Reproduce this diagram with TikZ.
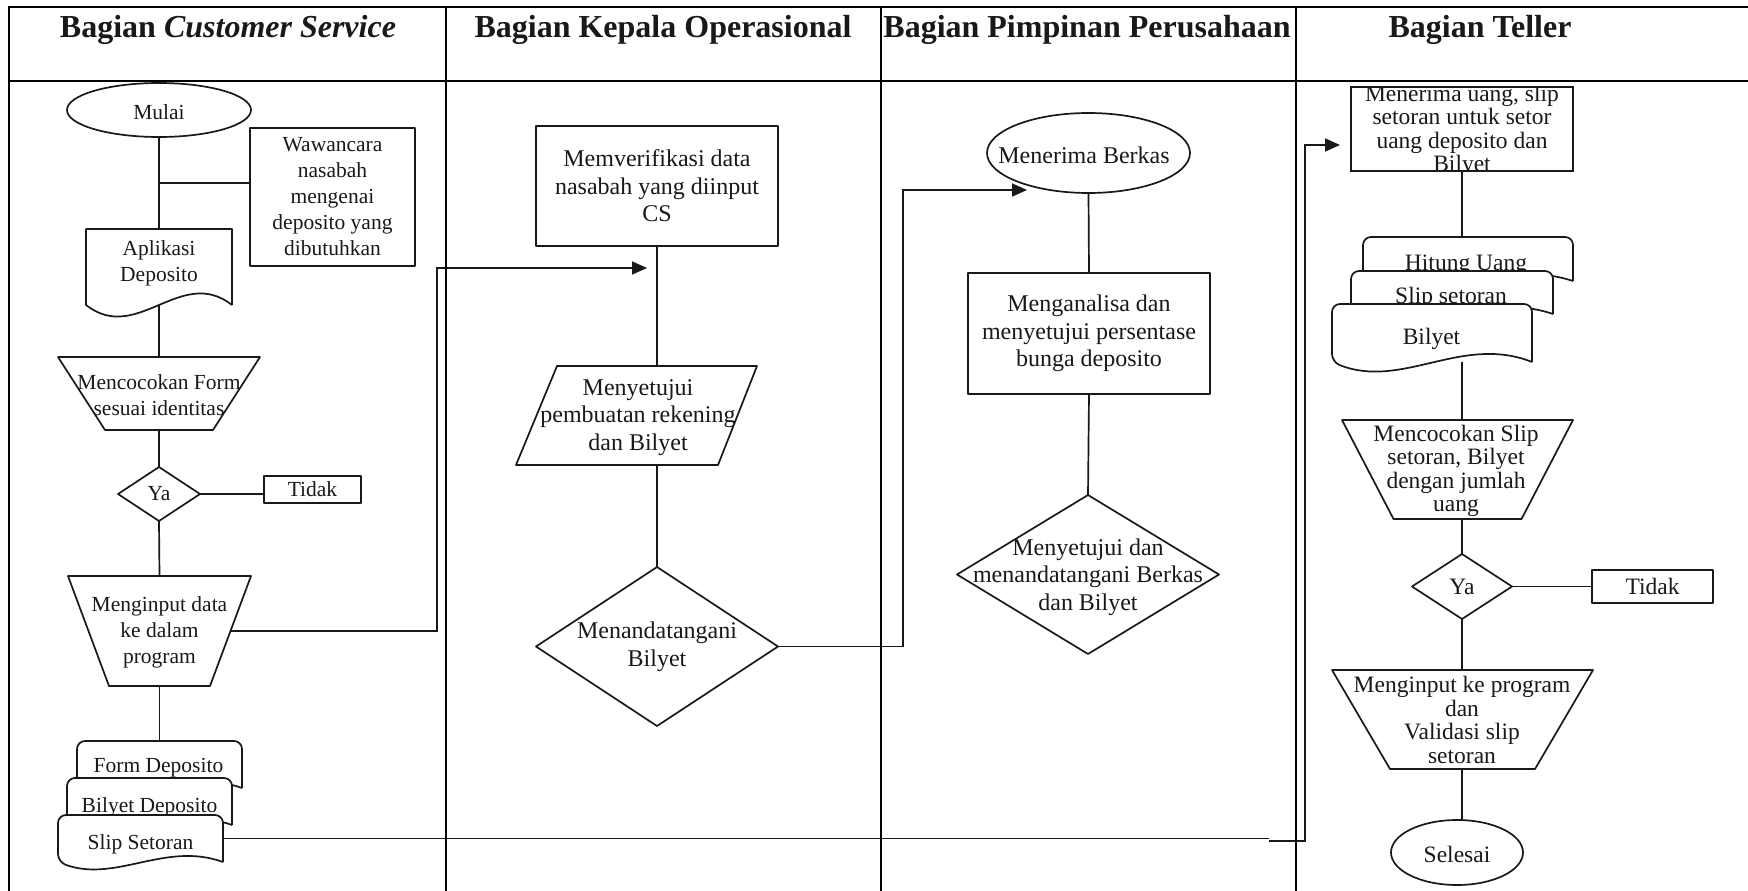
\documentclass[tikz,border=0pt]{standalone}
\usepackage{fontspec}
\setmainfont{Liberation Serif}
\usetikzlibrary{shapes.geometric,arrows.meta,calc}
\pgfdeclarelayer{background}
\pgfsetlayers{background,main}

% document symbol: straight sides, wavy bottom (name, wave depth, top corner radius)
\newcommand{\fcdoc}[3]{%
  \draw[shp,rounded corners=#3] (#1.south east) -- (#1.north east) -- (#1.north west) -- (#1.south west)
    .. controls ($(#1.south west)!0.35!(#1.south east)+(0,#2)$) and ($(#1.south west)!0.65!(#1.south east)+(0,-#2)$) .. (#1.south east);}
% manual operation: wide top, narrow bottom (name, inset of the bottom corners)
\newcommand{\fctrap}[2]{%
  \draw[shp] (#1.north west) -- (#1.north east) -- ($(#1.south east)+(-#2,0)$) -- ($(#1.south west)+(#2,0)$) -- cycle;}
% decision diamond filling the node box
\newcommand{\fcdiam}[1]{%
  \draw[shp] (#1.north) -- (#1.east) -- (#1.south) -- (#1.west) -- cycle;}
% data parallelogram (name, top-left inset, bottom-right inset)
\newcommand{\fcpara}[3]{%
  \draw[shp] ($(#1.north west)+(#2,0)$) -- (#1.north east) -- ($(#1.south east)+(-#3,0)$) -- (#1.south west) -- cycle;}

\begin{document}
\begin{tikzpicture}[x=1pt,y=-1pt,
  every node/.style={inner sep=0pt,outer sep=0pt,align=center,text=black!90},
  ln/.style={line width=1.7pt,draw=black!90},
  grid/.style={line width=1.8pt,draw=black},
  shp/.style={line width=1.7pt,draw=black!90,fill=white,line join=round},
  box/.style={rectangle,shp},
  oval/.style={ellipse,shp},
  arr/.style={ln,-{Triangle[length=15pt,width=13pt]}},
  frame/.style 2 args={minimum width=#1,minimum height=#2},
  fa/.style={font=\fontsize{21.5}{26}\selectfont},
  fb/.style={font=\fontsize{24}{27.5}\selectfont},
  fd/.style={font=\fontsize{23.5}{23.5}\selectfont},
  hd/.style={font=\fontsize{32}{38}\selectfont\bfseries},
]
\useasboundingbox (0,0) rectangle (1748,891);
\begin{pgfonlayer}{background}
  \fill[white] (0,0) rectangle (1748,891);
\end{pgfonlayer}

% table frame and lanes
\draw[grid] (9,891) -- (9,7) -- (1748,7);
\draw[grid] (9,81) -- (1748,81);
\draw[grid] (446,7) -- (446,891);
\draw[grid] (881,7) -- (881,891);
\draw[grid] (1296,7) -- (1296,891);

\node[hd,anchor=base] (h1) at (228,38) {Bagian \textit{Customer Service}};
\node[hd,anchor=base] (h2) at (663,38) {Bagian Kepala Operasional};
\node[hd,anchor=base] (h3) at (1087,38) {Bagian Pimpinan Perusahaan};
\node[hd,anchor=base] (h4) at (1480,38) {Bagian Teller};

% ---- Customer Service ----
\node[oval,frame={184}{54}] (mulai) at (159,110) {};
\node[fa] (mulai-t) at (159,112) {Mulai};

\node[box,fa,frame={165}{138}] (waw) at (332.5,197) {Wawancara\\nasabah\\mengenai\\deposito yang\\dibutuhkan};

\node[frame={146}{76}] (apl) at (159,267) {};
\fcdoc{apl}{40}{0pt}
\node[fa] (apl-t) at (159,263) {Aplikasi\\Deposito};

\node[frame={202}{73}] (cocok1) at (159,393.5) {};
\fctrap{cocok1}{47}
\node[fa] (cocok1-t) at (159,395) {Mencocokan Form\\sesuai identitas};

\node[frame={82}{54}] (ya1) at (159,494) {};
\fcdiam{ya1}
\node[fa] (ya1-t) at (159,494) {Ya};

\node[box,fa,frame={97}{27}] (tidak1) at (312.5,489.5) {Tidak};

\node[frame={183}{110}] (input1) at (159.5,631) {};
\fctrap{input1}{41}
\node[fa] (input1-t) at (159.5,632) {Menginput data\\ke dalam\\program};

\node[frame={165}{47}] (form) at (159.5,764.5) {};
\fcdoc{form}{21}{8pt}
\node[fa] (form-t) at (158.5,768) {Form Deposito};

\node[frame={165}{47}] (bildep) at (149.5,801.5) {};
\fcdoc{bildep}{21}{8pt}
\node[fa] (bildep-t) at (149.5,807) {Bilyet Deposito};

\node[frame={165}{47}] (slip) at (140.5,838.5) {};
\fcdoc{slip}{21}{8pt}
\node[fa] (slip-t) at (140.5,844) {Slip Setoran};

% ---- Kepala Operasional ----
\node[box,fb,frame={242}{120}] (verif) at (657,186) {Memverifikasi data\\nasabah yang diinput\\CS};

\node[frame={241}{99}] (setuju) at (636.5,415.5) {};
\fcpara{setuju}{41}{39}
\node[fb] (setuju-t) at (638,417.5) {Menyetujui\\pembuatan rekening\\dan Bilyet};

\node[frame={242}{159}] (tanda) at (657,646.5) {};
\fcdiam{tanda}
\node[fb] (tanda-t) at (657,647) {Menandatangani\\Bilyet};

% ---- Pimpinan Perusahaan ----
\node[oval,frame={203}{80}] (terima) at (1088.5,153) {};
\node[fb] (terima-t) at (1084,155) {Menerima Berkas};

\node[box,fb,frame={242}{121}] (analisa) at (1089,333.5) {Menganalisa dan\\menyetujui persentase\\bunga deposito};

\node[frame={262}{159}] (setuju2) at (1088,574.5) {};
\fcdiam{setuju2}
\node[fb] (setuju2-t) at (1088,577) {Menyetujui dan\\menandatangani Berkas\\dan Bilyet};

% ---- Teller ----
\node[frame={222}{84},fill=white] (tu) at (1462,129) {};
\begin{scope}
  \clip (tu.north west) rectangle (tu.south east);
  \node[fd] (tu-t) at (1462,131) {Menerima uang, slip\\setoran untuk setor\\uang deposito dan\\Bilyet};
\end{scope}
\draw[ln] (tu.north west) rectangle (tu.south east);

\node[frame={210}{44}] (hitung) at (1468,259) {};
\fcdoc{hitung}{24}{8pt}
\node[fd] (hitung-t) at (1466,265) {Hitung Uang};

\node[frame={202}{43}] (slipset) at (1452,292.5) {};
\fcdoc{slipset}{24}{8pt}
\node[fd] (slipset-t) at (1451,298) {Slip setoran};

\node[frame={200}{58}] (bilyet) at (1432,333) {};
\fcdoc{bilyet}{28}{8pt}
\node[fd] (bilyet-t) at (1431.5,339) {Bilyet};

\node[frame={231}{99}] (cocok2) at (1457.5,469.5) {};
\fctrap{cocok2}{51.5}
\node[fd] (cocok2-t) at (1456,471) {Mencocokan Slip\\setoran, Bilyet\\dengan jumlah\\uang};

\node[frame={100}{65}] (ya2) at (1462,586.5) {};
\fcdiam{ya2}
\node[fd] (ya2-t) at (1462,587) {Ya};

\node[box,fd,frame={121}{33}] (tidak2) at (1652.5,586.5) {Tidak};

\node[frame={261}{99}] (input2) at (1462.5,719.5) {};
\fctrap{input2}{58}
\node[fd] (input2-t) at (1462,720) {Menginput ke program\\dan\\Validasi slip\\setoran};

\node[oval,frame={132}{65}] (selesai) at (1457,852.5) {};
\node[fd] (selesai-t) at (1457,854) {Selesai};

% connector bends and free ends
\coordinate (br1) at (159,183);
\coordinate (in1e) at ($(input1.east)+(-20.5,0)$);
\coordinate (j1) at (437,268);
\coordinate (t1) at (647,268);
\coordinate (j2) at (903,190);
\coordinate (t2) at (1027,190);
\coordinate (g1) at (1269,838.5);
\coordinate (g2) at (1269,841);
\coordinate (j3) at (1305,145);
\coordinate (t3) at (1340,145);

\begin{pgfonlayer}{background}
  \draw[ln] (mulai.south) -- (apl.north);
  \draw[ln] (br1) -- (br1 -| waw.west);
  \draw[ln] (apl.south) -- (cocok1.north);
  \draw[ln] (cocok1.south) -- (ya1.north);
  \draw[ln] (ya1.east) -- (ya1.east -| tidak1.west);
  \draw[ln] (ya1.south) -- (input1.north);
  \draw[ln] (input1.south) -- (form.north);
  \draw[arr] (in1e) -- (in1e -| j1) -- (j1) -- (t1);

  \draw[ln] (verif.south) -- (verif.south |- setuju.north);
  \draw[ln] (verif.south |- setuju.south) -- (tanda.north);
  \draw[arr] (tanda.east) -- (tanda.east -| j2) -- (j2) -- (t2);

  \draw[ln] (terima.south) -- (analisa.north);
  \draw[ln] (analisa.south) -- (setuju2.north);

  \draw[ln] (slip.east) -- (g1);
  \draw[arr] (g2) -- (g2 -| j3) -- (j3) -- (t3);

  \draw[ln] (tu.south) -- (tu.south |- hitung.north);
  \draw[ln] (tu.south |- bilyet.south) -- (tu.south |- cocok2.north);
  \draw[ln] (ya2.north |- cocok2.south) -- (ya2.north);
  \draw[ln] (ya2.east) -- (ya2.east -| tidak2.west);
  \draw[ln] (ya2.south) -- (ya2.south |- input2.north);
  \draw[ln] (ya2.south |- input2.south) -- (ya2.south |- selesai.north);
\end{pgfonlayer}
\end{tikzpicture}
\end{document}
